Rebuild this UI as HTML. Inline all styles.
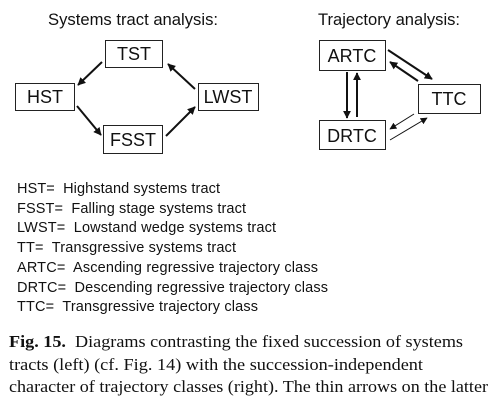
<!DOCTYPE html>
<html><head><style>body{margin:0;background:#fff}svg{display:block}</style></head><body>
<svg width="503" height="400" viewBox="0 0 503 400" xmlns="http://www.w3.org/2000/svg">
<defs>
<marker id="a" viewBox="0 0 10 10" refX="9" refY="5" markerWidth="4" markerHeight="4" orient="auto"><path d="M0,0L10,5L0,10z" fill="#111"/></marker>
<marker id="b" viewBox="0 0 10 10" refX="9" refY="5" markerWidth="7" markerHeight="7" orient="auto"><path d="M0,0L10,5L0,10z" fill="#111"/></marker>
</defs>
<g font-family="Liberation Sans, sans-serif" fill="#111">
<text x="48" y="25" font-size="16.5" textLength="170" lengthAdjust="spacingAndGlyphs">Systems tract analysis:</text>
<text x="318" y="25" font-size="16.5" textLength="142" lengthAdjust="spacingAndGlyphs">Trajectory analysis:</text>
<g fill="#fff" stroke="#222" stroke-width="1">
<rect x="105.5" y="40.5" width="57" height="27"/>
<rect x="15.5" y="83.5" width="59" height="27"/>
<rect x="198.5" y="83.5" width="60" height="27"/>
<rect x="103.5" y="125.5" width="59" height="28"/>
<rect x="319.5" y="40.5" width="66" height="30"/>
<rect x="418.5" y="84.5" width="62" height="29"/>
<rect x="319.5" y="120.5" width="66" height="29"/>
</g>
<g font-size="18" text-anchor="middle">
<text x="134" y="60">TST</text>
<text x="45" y="103">HST</text>
<text x="228" y="103">LWST</text>
<text x="133" y="146">FSST</text>
<text x="352" y="62">ARTC</text>
<text x="449" y="105">TTC</text>
<text x="352" y="142">DRTC</text>
</g>
<g stroke="#111" stroke-width="2" marker-end="url(#a)">
<line x1="102" y1="62" x2="78" y2="85"/>
<line x1="77" y1="106" x2="101" y2="135"/>
<line x1="166" y1="136" x2="195" y2="107"/>
<line x1="195" y1="89" x2="168" y2="64"/>
<line x1="347" y1="72" x2="347" y2="118"/>
<line x1="357" y1="117" x2="357" y2="73"/>
<line x1="388" y1="50" x2="432" y2="79"/>
<line x1="418" y1="81" x2="390" y2="62"/>
</g>
<g stroke="#111" stroke-width="1" marker-end="url(#b)">
<line x1="414" y1="114" x2="390" y2="129"/>
<line x1="390" y1="140" x2="427" y2="118"/>
</g>
<g font-size="14.5" lengthAdjust="spacingAndGlyphs">
<text x="17" y="193" textLength="203">HST=&#160; Highstand systems tract</text>
<text x="17" y="213" textLength="229">FSST=&#160; Falling stage systems tract</text>
<text x="17" y="232" textLength="259">LWST=&#160; Lowstand wedge systems tract</text>
<text x="17" y="252" textLength="219">TT=&#160; Transgressive systems tract</text>
<text x="17" y="272" textLength="301">ARTC=&#160; Ascending regressive trajectory class</text>
<text x="17" y="292" textLength="311">DRTC=&#160; Descending regressive trajectory class</text>
<text x="17" y="311" textLength="241">TTC=&#160; Transgressive trajectory class</text>
</g>
<g font-family="Liberation Serif, serif" font-size="16.5">
<text x="9" y="347" textLength="454" lengthAdjust="spacingAndGlyphs"><tspan font-weight="bold">Fig. 15.</tspan>&#160; Diagrams contrasting the fixed succession of systems</text>
<text x="9" y="370" textLength="414" lengthAdjust="spacingAndGlyphs">tracts (left) (cf. Fig. 14) with the succession-independent</text>
<text x="9" y="392" textLength="479" lengthAdjust="spacingAndGlyphs">character of trajectory classes (right). The thin arrows on the latter</text>
</g>
</g>
</svg>
</body></html>
